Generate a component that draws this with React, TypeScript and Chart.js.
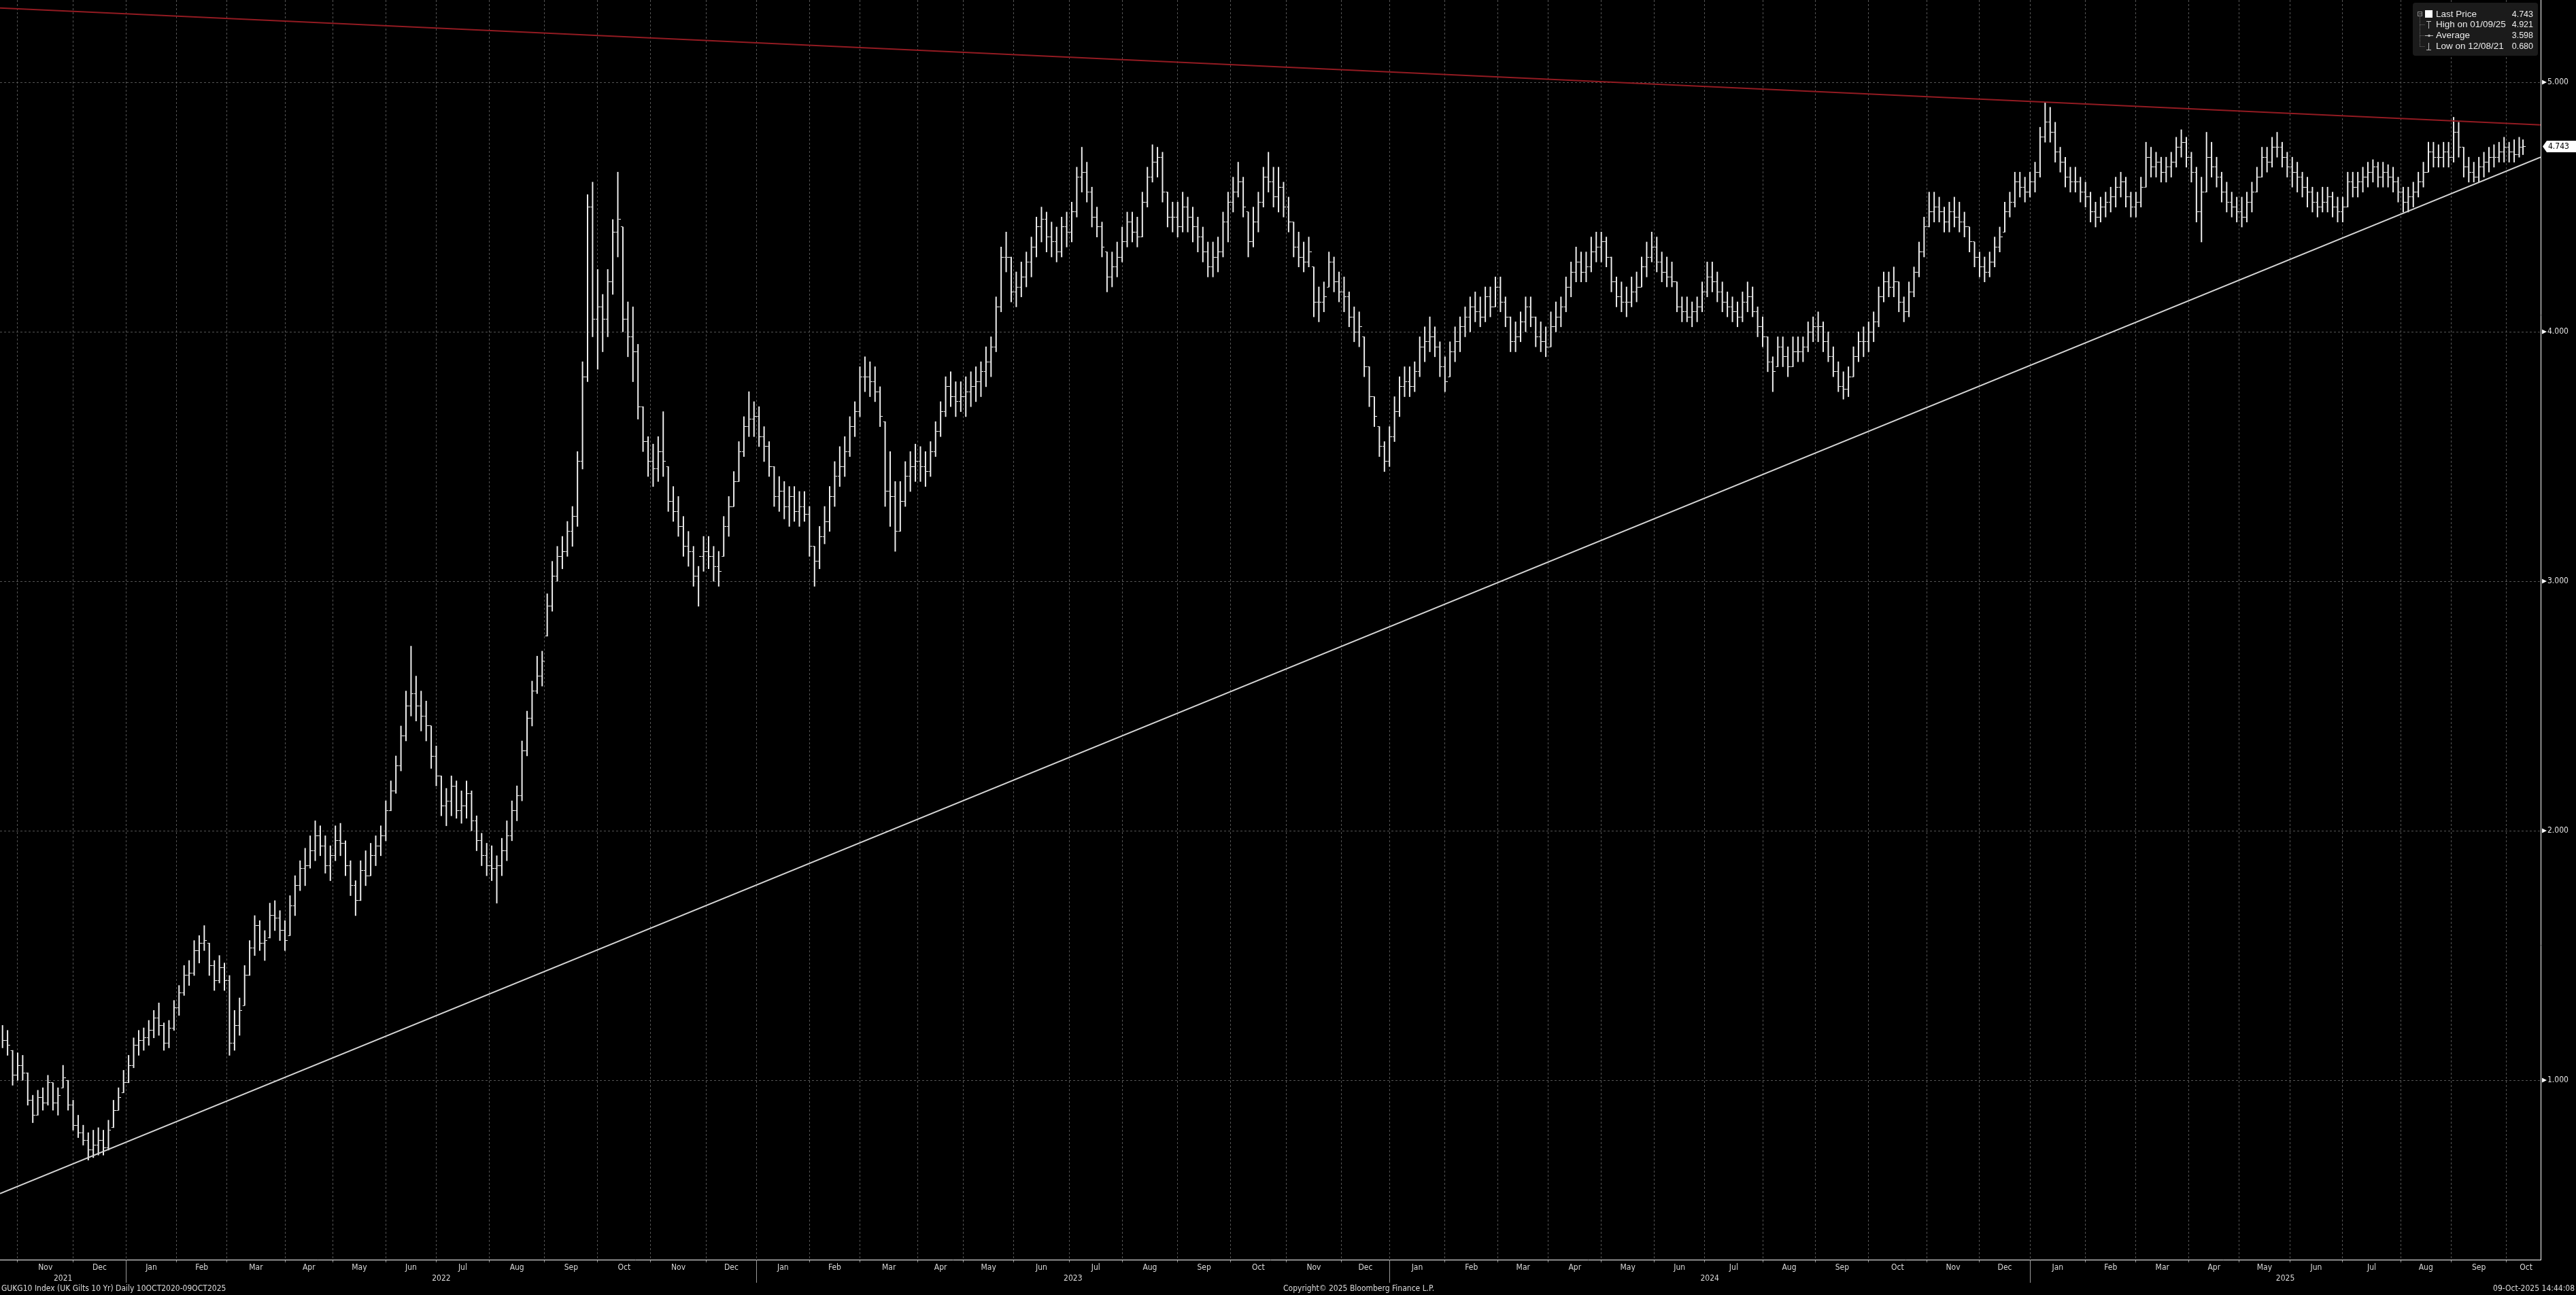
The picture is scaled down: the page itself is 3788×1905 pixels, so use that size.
import React, { useEffect, useRef } from 'react';
import { Chart, registerables } from 'chart.js';

Chart.register(...registerables);

// ---------- calendar ----------
const START_DATE = '2021-10-21';
const END_DATE = '2025-10-09';
const ukHolidays = [
  '2021-12-27', '2021-12-28',
  '2022-01-03', '2022-04-15', '2022-04-18', '2022-05-02', '2022-06-02', '2022-06-03', '2022-08-29', '2022-09-19', '2022-12-26', '2022-12-27',
  '2023-01-02', '2023-04-07', '2023-04-10', '2023-05-01', '2023-05-08', '2023-05-29', '2023-08-28', '2023-12-25', '2023-12-26',
  '2024-01-01', '2024-03-29', '2024-04-01', '2024-05-06', '2024-05-27', '2024-08-26', '2024-12-25', '2024-12-26',
  '2025-01-01', '2025-04-18', '2025-04-21', '2025-05-05', '2025-05-26', '2025-08-25',
];
const monthNames = ['Jan', 'Feb', 'Mar', 'Apr', 'May', 'Jun', 'Jul', 'Aug', 'Sep', 'Oct', 'Nov', 'Dec'];
const yTickValues = [1, 2, 3, 4, 5];

// ---------- data: two-trading-day bars [low, high, close] ----------
const bars2021: number[][] = [
  [1.13, 1.22, 1.16], [1.10, 1.20, 1.14], [0.98, 1.12, 1.02], [1.00, 1.11, 1.06], [1.00, 1.10, 1.03],
  [0.90, 1.03, 0.92], [0.83, 0.94, 0.86], [0.86, 0.96, 0.93], [0.88, 0.97, 0.91], [0.90, 1.02, 0.99],
  [0.88, 0.99, 0.91], [0.86, 0.97, 0.94], [0.97, 1.06, 1.01], [0.88, 1.00, 0.90], [0.80, 0.92, 0.82],
  [0.77, 0.86, 0.79], [0.74, 0.82, 0.76], [0.68, 0.79, 0.72], [0.69, 0.80, 0.74], [0.70, 0.81, 0.76],
  [0.70, 0.80, 0.73], [0.72, 0.84, 0.80], [0.81, 0.92, 0.88], [0.88, 0.97, 0.93], [0.95, 1.04, 0.99],
];
const bars2022: number[][] = [
  [0.99, 1.10, 1.06], [1.05, 1.17, 1.14], [1.10, 1.20, 1.16], [1.12, 1.21, 1.17], [1.14, 1.24, 1.20],
  [1.17, 1.28, 1.25], [1.18, 1.31, 1.22], [1.12, 1.23, 1.15], [1.13, 1.24, 1.21], [1.20, 1.32, 1.29],
  [1.26, 1.38, 1.35], [1.34, 1.46, 1.42], [1.38, 1.48, 1.43], [1.42, 1.56, 1.52], [1.47, 1.58, 1.55],
  [1.52, 1.62, 1.56], [1.42, 1.55, 1.46], [1.36, 1.48, 1.40], [1.39, 1.50, 1.45], [1.36, 1.47, 1.40],
  [1.10, 1.42, 1.15], [1.12, 1.28, 1.22], [1.18, 1.33, 1.28], [1.30, 1.46, 1.42], [1.42, 1.56, 1.53],
  [1.50, 1.66, 1.62], [1.52, 1.64, 1.55], [1.48, 1.60, 1.56], [1.57, 1.71, 1.66], [1.60, 1.72, 1.65],
  [1.56, 1.68, 1.60], [1.52, 1.64, 1.56], [1.58, 1.74, 1.70], [1.66, 1.82, 1.78], [1.76, 1.88, 1.85],
  [1.78, 1.93, 1.86], [1.85, 1.98, 1.92], [1.88, 2.04, 1.98], [1.90, 2.02, 1.94], [1.83, 1.98, 1.86],
  [1.80, 1.94, 1.90], [1.88, 2.02, 1.96], [1.90, 2.03, 1.95], [1.82, 1.96, 1.86], [1.74, 1.88, 1.78],
  [1.66, 1.80, 1.72], [1.72, 1.88, 1.84], [1.78, 1.92, 1.82], [1.82, 1.95, 1.90], [1.86, 1.98, 1.94],
  [1.90, 2.02, 1.98], [1.96, 2.12, 2.08], [2.08, 2.20, 2.16], [2.15, 2.30, 2.26], [2.24, 2.42, 2.38],
  [2.36, 2.56, 2.50], [2.46, 2.74, 2.55], [2.44, 2.62, 2.50], [2.40, 2.56, 2.46], [2.36, 2.52, 2.42],
  [2.25, 2.42, 2.30], [2.18, 2.34, 2.22], [2.06, 2.22, 2.10], [2.02, 2.17, 2.12], [2.06, 2.22, 2.18],
  [2.05, 2.20, 2.08], [2.03, 2.16, 2.10], [2.05, 2.20, 2.15], [2.00, 2.16, 2.04], [1.92, 2.06, 1.96],
  [1.86, 1.99, 1.90], [1.82, 1.95, 1.86], [1.80, 1.94, 1.85], [1.71, 1.90, 1.86], [1.82, 1.97, 1.92],
  [1.88, 2.04, 1.98], [1.96, 2.12, 2.08], [2.04, 2.18, 2.14], [2.12, 2.36, 2.32], [2.30, 2.48, 2.45],
  [2.42, 2.60, 2.56], [2.55, 2.70, 2.62], [2.58, 2.72, 2.68], [2.78, 2.95, 2.90], [2.88, 3.08, 3.02],
  [3.00, 3.14, 3.10], [3.05, 3.18, 3.12], [3.10, 3.24, 3.20], [3.14, 3.30, 3.26], [3.22, 3.52, 3.48],
  [3.45, 3.88, 3.82], [3.80, 4.55, 4.50], [3.98, 4.60, 4.05], [3.85, 4.25, 4.10], [3.92, 4.15, 4.05],
  [3.98, 4.25, 4.20], [4.15, 4.45, 4.40], [4.30, 4.64, 4.45], [4.00, 4.42, 4.05], [3.90, 4.12, 3.98],
  [3.80, 4.10, 3.92], [3.65, 3.95, 3.70], [3.52, 3.70, 3.56], [3.42, 3.58, 3.48], [3.38, 3.55, 3.45],
  [3.40, 3.58, 3.52], [3.42, 3.68, 3.48], [3.28, 3.46, 3.32], [3.24, 3.38, 3.28], [3.18, 3.34, 3.22],
  [3.10, 3.26, 3.14], [3.06, 3.20, 3.12], [2.98, 3.14, 3.02], [2.90, 3.06, 3.10], [3.04, 3.18, 3.12],
  [3.05, 3.18, 3.10], [3.00, 3.14, 3.06], [2.98, 3.12, 3.04], [3.10, 3.26, 3.22], [3.18, 3.34, 3.30],
  [3.30, 3.44, 3.40], [3.40, 3.56, 3.52], [3.50, 3.66, 3.62], [3.58, 3.76, 3.65], [3.58, 3.72, 3.66],
];
const bars2023: number[][] = [
  [3.54, 3.70, 3.58], [3.48, 3.62, 3.54], [3.42, 3.56, 3.46], [3.30, 3.46, 3.34], [3.28, 3.42, 3.36],
  [3.25, 3.40, 3.30], [3.22, 3.38, 3.34], [3.24, 3.38, 3.28], [3.22, 3.36, 3.30], [3.24, 3.36, 3.27],
  [3.10, 3.30, 3.14], [2.98, 3.14, 3.08], [3.05, 3.22, 3.18], [3.15, 3.30, 3.24], [3.20, 3.38, 3.34],
  [3.30, 3.48, 3.42], [3.38, 3.54, 3.46], [3.42, 3.58, 3.52], [3.50, 3.66, 3.62], [3.58, 3.72, 3.68],
  [3.66, 3.86, 3.82], [3.76, 3.90, 3.82], [3.74, 3.88, 3.80], [3.72, 3.86, 3.76], [3.62, 3.78, 3.66],
  [3.30, 3.64, 3.36], [3.22, 3.52, 3.34], [3.12, 3.40, 3.20], [3.20, 3.40, 3.32], [3.30, 3.48, 3.42],
  [3.36, 3.52, 3.46], [3.40, 3.55, 3.48], [3.40, 3.54, 3.46], [3.38, 3.52, 3.44], [3.42, 3.56, 3.52],
  [3.50, 3.64, 3.60], [3.58, 3.72, 3.68], [3.66, 3.82, 3.78], [3.70, 3.84, 3.74], [3.66, 3.80, 3.72],
  [3.68, 3.80, 3.74], [3.66, 3.82, 3.76], [3.70, 3.84, 3.78], [3.72, 3.86, 3.80], [3.74, 3.88, 3.84],
  [3.78, 3.94, 3.88], [3.82, 3.98, 3.94], [3.92, 4.14, 4.10], [4.08, 4.34, 4.30], [4.24, 4.40, 4.30],
  [4.12, 4.30, 4.16], [4.10, 4.24, 4.18], [4.14, 4.28, 4.22], [4.18, 4.32, 4.28], [4.22, 4.38, 4.34],
  [4.30, 4.46, 4.42], [4.36, 4.50, 4.45], [4.32, 4.48, 4.38], [4.30, 4.44, 4.36], [4.28, 4.42, 4.32],
  [4.30, 4.46, 4.42], [4.34, 4.48, 4.40], [4.36, 4.52, 4.48], [4.46, 4.66, 4.62], [4.56, 4.74, 4.64],
  [4.52, 4.68, 4.56], [4.42, 4.58, 4.46], [4.38, 4.50, 4.42], [4.30, 4.44, 4.34], [4.16, 4.32, 4.22],
  [4.18, 4.32, 4.26], [4.22, 4.36, 4.30], [4.28, 4.42, 4.36], [4.34, 4.48, 4.44], [4.36, 4.48, 4.40],
  [4.34, 4.46, 4.38], [4.38, 4.56, 4.52], [4.50, 4.66, 4.62], [4.60, 4.75, 4.68], [4.62, 4.74, 4.70],
  [4.52, 4.72, 4.56], [4.42, 4.56, 4.46], [4.40, 4.52, 4.46], [4.38, 4.52, 4.42], [4.40, 4.56, 4.50],
  [4.40, 4.54, 4.46], [4.36, 4.50, 4.42], [4.32, 4.46, 4.38], [4.28, 4.42, 4.32], [4.22, 4.36, 4.26],
  [4.22, 4.36, 4.30], [4.24, 4.38, 4.32], [4.30, 4.48, 4.44], [4.36, 4.56, 4.52], [4.48, 4.62, 4.56],
  [4.54, 4.68, 4.60], [4.46, 4.62, 4.50], [4.30, 4.48, 4.36], [4.34, 4.50, 4.44], [4.40, 4.56, 4.52],
  [4.50, 4.66, 4.62], [4.56, 4.72, 4.60], [4.50, 4.66, 4.54], [4.48, 4.66, 4.58], [4.46, 4.60, 4.50],
  [4.40, 4.54, 4.44], [4.30, 4.44, 4.34], [4.26, 4.40, 4.30], [4.24, 4.36, 4.28], [4.26, 4.38, 4.32],
  [4.06, 4.26, 4.12], [4.04, 4.18, 4.12], [4.08, 4.20, 4.14], [4.18, 4.32, 4.28], [4.16, 4.30, 4.20],
  [4.12, 4.24, 4.16], [4.08, 4.22, 4.14], [4.02, 4.16, 4.06], [3.96, 4.10, 4.00], [3.94, 4.08, 4.02],
  [3.82, 3.98, 3.86], [3.70, 3.86, 3.74], [3.62, 3.74, 3.66], [3.50, 3.62, 3.54], [3.44, 3.56, 3.48],
  [3.46, 3.62, 3.58],
];
const bars2024: number[][] = [
  [3.56, 3.74, 3.68], [3.66, 3.82, 3.78], [3.74, 3.86, 3.80], [3.74, 3.86, 3.78], [3.76, 3.88, 3.84],
  [3.82, 3.98, 3.94], [3.88, 4.02, 3.96], [3.92, 4.06, 3.98], [3.90, 4.02, 3.94], [3.82, 3.96, 3.86],
  [3.76, 3.90, 3.80], [3.82, 3.96, 3.92], [3.88, 4.02, 3.96], [3.92, 4.06, 4.02], [3.98, 4.10, 4.06],
  [4.00, 4.14, 4.10], [4.04, 4.16, 4.08], [4.02, 4.14, 4.06], [4.04, 4.18, 4.14], [4.06, 4.18, 4.10],
  [4.10, 4.22, 4.18], [4.08, 4.22, 4.12], [4.02, 4.14, 4.06], [3.92, 4.06, 3.96], [3.92, 4.04, 3.98],
  [3.96, 4.08, 4.04], [4.00, 4.14, 4.10], [4.02, 4.14, 4.06], [3.94, 4.06, 3.98], [3.92, 4.04, 3.96],
  [3.90, 4.02, 3.94], [3.94, 4.08, 4.02], [4.00, 4.12, 4.06], [4.02, 4.14, 4.10], [4.08, 4.22, 4.18],
  [4.14, 4.28, 4.24], [4.20, 4.34, 4.28], [4.20, 4.32, 4.24], [4.20, 4.32, 4.26], [4.24, 4.38, 4.32],
  [4.28, 4.40, 4.34], [4.28, 4.40, 4.36], [4.26, 4.38, 4.30], [4.16, 4.30, 4.20], [4.10, 4.22, 4.14],
  [4.08, 4.20, 4.12], [4.06, 4.18, 4.12], [4.10, 4.22, 4.16], [4.12, 4.24, 4.18], [4.18, 4.30, 4.26],
  [4.22, 4.36, 4.30], [4.28, 4.40, 4.34], [4.24, 4.38, 4.28], [4.20, 4.32, 4.24], [4.18, 4.30, 4.22],
  [4.18, 4.28, 4.20], [4.08, 4.20, 4.10], [4.04, 4.14, 4.08], [4.04, 4.14, 4.06], [4.02, 4.12, 4.08],
  [4.04, 4.14, 4.10], [4.08, 4.20, 4.16], [4.14, 4.28, 4.22], [4.16, 4.28, 4.20], [4.12, 4.24, 4.16],
  [4.08, 4.20, 4.12], [4.06, 4.16, 4.10], [4.04, 4.14, 4.08], [4.02, 4.12, 4.06], [4.04, 4.16, 4.12],
  [4.08, 4.20, 4.14], [4.06, 4.18, 4.08], [3.98, 4.10, 4.02], [3.94, 4.06, 3.98], [3.84, 3.98, 3.88],
  [3.76, 3.90, 3.84], [3.86, 3.98, 3.94], [3.86, 3.98, 3.90], [3.82, 3.94, 3.86], [3.86, 3.98, 3.92],
  [3.88, 3.98, 3.92], [3.88, 3.98, 3.94], [3.92, 4.04, 4.00], [3.96, 4.06, 4.02], [3.96, 4.08, 4.02],
  [3.92, 4.04, 3.96], [3.88, 4.00, 3.90], [3.82, 3.94, 3.84], [3.76, 3.88, 3.78], [3.73, 3.84, 3.77],
  [3.74, 3.86, 3.82], [3.82, 3.94, 3.90], [3.88, 4.00, 3.96], [3.90, 4.02, 3.96], [3.92, 4.04, 4.00],
  [3.96, 4.08, 4.04], [4.02, 4.18, 4.14], [4.12, 4.24, 4.20], [4.14, 4.24, 4.18], [4.14, 4.26, 4.20],
  [4.08, 4.20, 4.12], [4.04, 4.14, 4.08], [4.06, 4.20, 4.16], [4.14, 4.26, 4.24], [4.22, 4.36, 4.32],
  [4.30, 4.46, 4.42], [4.42, 4.56, 4.48], [4.44, 4.56, 4.50], [4.44, 4.54, 4.48], [4.40, 4.50, 4.44],
  [4.40, 4.52, 4.48], [4.42, 4.54, 4.46], [4.40, 4.52, 4.44], [4.38, 4.48, 4.42], [4.32, 4.42, 4.36],
  [4.26, 4.36, 4.30], [4.22, 4.32, 4.26], [4.20, 4.30, 4.24], [4.22, 4.32, 4.28], [4.26, 4.38, 4.34],
  [4.32, 4.42, 4.38], [4.40, 4.52, 4.48], [4.46, 4.56, 4.52], [4.50, 4.64, 4.60], [4.54, 4.64, 4.58],
  [4.52, 4.62, 4.56], [4.54, 4.64, 4.60],
];
const bars2025: number[][] = [
  [4.56, 4.68, 4.64], [4.62, 4.82, 4.78], [4.76, 4.92, 4.84], [4.76, 4.90, 4.80], [4.68, 4.84, 4.72],
  [4.64, 4.74, 4.68], [4.58, 4.70, 4.62], [4.56, 4.66, 4.60], [4.56, 4.66, 4.60], [4.52, 4.62, 4.56],
  [4.50, 4.60, 4.54], [4.44, 4.56, 4.48], [4.42, 4.52, 4.46], [4.44, 4.54, 4.50], [4.46, 4.56, 4.52],
  [4.48, 4.58, 4.54], [4.50, 4.62, 4.58], [4.54, 4.64, 4.60], [4.50, 4.62, 4.54], [4.46, 4.56, 4.50],
  [4.46, 4.56, 4.52], [4.50, 4.62, 4.58], [4.58, 4.76, 4.70], [4.62, 4.74, 4.66], [4.62, 4.72, 4.68],
  [4.60, 4.70, 4.64], [4.60, 4.70, 4.66], [4.62, 4.72, 4.68], [4.66, 4.78, 4.74], [4.70, 4.81, 4.76],
  [4.66, 4.78, 4.70], [4.60, 4.72, 4.64], [4.44, 4.66, 4.48], [4.36, 4.62, 4.56], [4.56, 4.80, 4.70],
  [4.62, 4.76, 4.66], [4.58, 4.70, 4.62], [4.52, 4.64, 4.56], [4.48, 4.60, 4.52], [4.46, 4.56, 4.50],
  [4.44, 4.54, 4.48], [4.42, 4.54, 4.46], [4.44, 4.56, 4.52], [4.48, 4.60, 4.56], [4.56, 4.66, 4.62],
  [4.62, 4.74, 4.70], [4.64, 4.74, 4.68], [4.66, 4.78, 4.74], [4.70, 4.80, 4.74], [4.66, 4.76, 4.70],
  [4.62, 4.72, 4.66], [4.58, 4.70, 4.64], [4.56, 4.68, 4.62], [4.54, 4.64, 4.58], [4.50, 4.62, 4.56],
  [4.48, 4.58, 4.52], [4.46, 4.56, 4.50], [4.48, 4.58, 4.52], [4.48, 4.58, 4.54], [4.46, 4.56, 4.50],
  [4.44, 4.54, 4.48], [4.44, 4.54, 4.50], [4.50, 4.64, 4.60], [4.54, 4.64, 4.58], [4.54, 4.64, 4.60],
  [4.56, 4.66, 4.62], [4.58, 4.68, 4.64], [4.60, 4.69, 4.66], [4.58, 4.68, 4.62], [4.58, 4.68, 4.64],
  [4.58, 4.67, 4.62], [4.56, 4.66, 4.60], [4.52, 4.62, 4.56], [4.48, 4.58, 4.52], [4.48, 4.58, 4.54],
  [4.50, 4.60, 4.56], [4.54, 4.64, 4.60], [4.58, 4.68, 4.64], [4.64, 4.76, 4.72], [4.66, 4.76, 4.70],
  [4.66, 4.75, 4.70], [4.66, 4.76, 4.72], [4.66, 4.76, 4.70], [4.68, 4.86, 4.80], [4.70, 4.84, 4.74],
  [4.62, 4.74, 4.66], [4.60, 4.70, 4.64], [4.60, 4.68, 4.62], [4.60, 4.70, 4.66], [4.62, 4.72, 4.68],
  [4.64, 4.74, 4.70], [4.66, 4.75, 4.70], [4.68, 4.76, 4.72], [4.68, 4.78, 4.74], [4.68, 4.76, 4.72],
  [4.68, 4.77, 4.71], [4.70, 4.78, 4.74], [4.71, 4.77, 4.743],
];

// trend lines: value at left edge, value at right edge
const resistanceLine = [5.298, 4.829];
const supportLine = [0.546, 4.70];

// legend
const legendLabels = ['Last Price', 'High on 01/09/25', 'Average', 'Low on 12/08/21'];
const legendValues = ['4.743', '4.921', '3.598', '0.680'];
const lastPrice = 4.743;

const footerLeft = 'GUKG10 Index (UK Gilts 10 Yr) Daily 10OCT2020-09OCT2025';
const footerMid = 'Copyright\u00A9 2025 Bloomberg Finance L.P.';
const footerRight = '09-Oct-2025 14:44:08';

const AXIS_FONT = '"DejaVu Sans Condensed", "Liberation Sans Narrow", "DejaVu Sans", sans-serif';
const LEGEND_FONT = '"Liberation Sans", Arial, sans-serif';

function buildTradingDays(): string[] {
  const out: string[] = [];
  const hol = new Set(ukHolidays);
  const d = new Date(START_DATE + 'T00:00:00Z');
  const end = new Date(END_DATE + 'T00:00:00Z');
  while (d.getTime() <= end.getTime()) {
    const wd = d.getUTCDay();
    const iso = d.toISOString().slice(0, 10);
    if (wd !== 0 && wd !== 6 && !hol.has(iso)) out.push(iso);
    d.setUTCDate(d.getUTCDate() + 1);
  }
  return out;
}

const zeroPad = (s: any) => {
  s.paddingLeft = 0;
  s.paddingRight = 0;
  s.paddingTop = 0;
  s.paddingBottom = 0;
};

export default function App() {
  const ref = useRef<HTMLCanvasElement>(null);

  useEffect(() => {
    document.body.style.margin = '0';
    document.body.style.background = '#000';
    const canvas = ref.current;
    if (!canvas) return;

    const days = buildTradingDays();
    const N = days.length;
    const X_MIN = -0.5;
    const X_MAX = N + 6;

    // month spans
    const months: { key: string; start: number; end: number }[] = [];
    days.forEach((iso, i) => {
      const key = iso.slice(0, 7);
      if (!months.length || months[months.length - 1].key !== key) {
        if (months.length) months[months.length - 1].end = i;
        months.push({ key, start: i, end: N });
      }
    });
    const monthBoundaries = months.filter((m) => m.start > 0).map((m) => m.start - 0.5);
    const labelledMonths = months.filter((m, i) => !(i === 0 && m.end - m.start < 10));
    const monthLabelPos = labelledMonths.map((m, i) => {
      const last = i === labelledMonths.length - 1;
      const a = m.start - 0.5;
      const b = last ? X_MAX + 2 : m.end - 0.5;
      return (a + b) / 2;
    });
    const monthLabelText = labelledMonths.map((m) => monthNames[parseInt(m.key.slice(5, 7), 10) - 1]);

    // year spans
    const years: { y: string; start: number; end: number }[] = [];
    days.forEach((iso, i) => {
      const y = iso.slice(0, 4);
      if (!years.length || years[years.length - 1].y !== y) {
        if (years.length) years[years.length - 1].end = i;
        years.push({ y, start: i, end: N });
      }
    });
    const yearLabelPos = years.map((yr, i) => {
      const a = Math.max(yr.start - 0.5, X_MIN);
      const b = i === years.length - 1 ? X_MAX : yr.end - 0.5;
      return (a + b) / 2;
    });
    const yearLabelText = years.map((yr) => yr.y);
    const yearBoundaries = years.filter((yr) => yr.start > 0).map((yr) => yr.start - 0.5);

    const allBars = [...bars2021, ...bars2022, ...bars2023, ...bars2024, ...bars2025];
    const xOf = (k: number) => Math.min(2 * k + 0.5, N - 1);
    const rangeData = allBars.map((b, k) => ({ x: xOf(k), y: [b[0], b[1]] }));
    const closeData = allBars.map((b, k) => ({ x: xOf(k), y: b[2] }));
    // open tick: the bar opens where the previous bar closed (kept within its range)
    const openData = allBars.slice(1).map((b, j) => ({
      x: xOf(j + 1),
      y: Math.min(b[1], Math.max(b[0], allBars[j][2])),
    }));

    const closeImg = document.createElement('canvas');
    closeImg.width = 8;
    closeImg.height = 1;
    const cctx = closeImg.getContext('2d')!;
    cctx.fillStyle = '#f2f2f2';
    cctx.fillRect(5, 0, 3, 1);

    const openImg = document.createElement('canvas');
    openImg.width = 8;
    openImg.height = 1;
    const octx = openImg.getContext('2d')!;
    octx.fillStyle = '#d8d8d8';
    octx.fillRect(1, 0, 3, 1);

    const decor = {
      id: 'bbgDecor',
      beforeDraw(chart: any) {
        const c = chart.ctx;
        c.save();
        c.fillStyle = '#000';
        c.fillRect(0, 0, chart.width, chart.height);
        c.restore();
      },
      afterDraw(chart: any) {
        const c = chart.ctx as CanvasRenderingContext2D;
        const xs = chart.scales.x;
        const ys = chart.scales.y;
        const area = chart.chartArea;
        c.save();

        // year separators below the axis
        c.strokeStyle = '#9a9a9a';
        c.lineWidth = 1;
        yearBoundaries.forEach((v) => {
          const px = Math.round(xs.getPixelForValue(v)) + 0.5;
          c.beginPath();
          c.moveTo(px, area.bottom);
          c.lineTo(px, area.bottom + 34);
          c.stroke();
        });

        // y tick arrow markers
        c.fillStyle = '#ffffff';
        yTickValues.forEach((v) => {
          const py = ys.getPixelForValue(v);
          c.beginPath();
          c.moveTo(area.right + 2, py - 3.5);
          c.lineTo(area.right + 9, py);
          c.lineTo(area.right + 2, py + 3.5);
          c.closePath();
          c.fill();
        });

        // last price tag
        const lp = ys.getPixelForValue(lastPrice);
        c.fillStyle = '#ffffff';
        c.beginPath();
        c.moveTo(area.right + 3, lp);
        c.lineTo(area.right + 9, lp - 8.5);
        c.lineTo(chart.width, lp - 8.5);
        c.lineTo(chart.width, lp + 8.5);
        c.lineTo(area.right + 9, lp + 8.5);
        c.closePath();
        c.fill();
        c.fillStyle = '#000';
        c.font = '12px ' + AXIS_FONT;
        c.textBaseline = 'middle';
        c.textAlign = 'left';
        c.fillText(lastPrice.toFixed(3), area.right + 11, lp + 0.5);

        // legend box
        const bx = 3548, by = 4, bw = 184, bh = 78;
        c.fillStyle = '#1b1b1b';
        c.beginPath();
        (c as any).roundRect(bx, by, bw, bh, 4);
        c.fill();
        const rowsY = [21, 36, 52, 68];
        // tree lines
        c.strokeStyle = '#6e6e6e';
        c.lineWidth = 1;
        c.setLineDash([1, 1]);
        c.beginPath();
        c.moveTo(3558.5, 25);
        c.lineTo(3558.5, rowsY[3] + 0.5);
        for (let r = 1; r < 4; r++) {
          c.moveTo(3558.5, rowsY[r] + 0.5);
          c.lineTo(3566, rowsY[r] + 0.5);
        }
        c.stroke();
        c.setLineDash([]);
        // collapse box
        c.strokeStyle = '#8a8a8a';
        c.strokeRect(3555.5, 17.5, 6, 6);
        c.beginPath();
        c.moveTo(3557, 20.5);
        c.lineTo(3561, 20.5);
        c.stroke();
        // icons
        c.fillStyle = '#ffffff';
        c.fillRect(3566, 15, 11, 11);
        c.strokeStyle = '#bdbdbd';
        c.beginPath();
        c.moveTo(3568, 31.5); c.lineTo(3575, 31.5);
        c.moveTo(3571.5, 31); c.lineTo(3571.5, 42);
        c.moveTo(3566, 52.5); c.lineTo(3578, 52.5);
        c.moveTo(3571.5, 63); c.lineTo(3571.5, 73);
        c.moveTo(3568, 73.5); c.lineTo(3575, 73.5);
        c.stroke();
        c.fillStyle = '#bdbdbd';
        c.beginPath();
        c.arc(3572, 52.5, 1.8, 0, Math.PI * 2);
        c.fill();
        // legend texts
        c.fillStyle = '#ececec';
        c.textBaseline = 'middle';
        legendLabels.forEach((t, i) => {
          c.font = '13.5px ' + LEGEND_FONT;
          c.textAlign = 'left';
          c.fillText(t, 3582, rowsY[i] + 0.5);
          c.font = '12.5px ' + LEGEND_FONT;
          c.textAlign = 'right';
          c.fillText(legendValues[i], 3725, rowsY[i] + 0.5);
        });

        // footer
        c.fillStyle = '#dcdcdc';
        c.font = '12px ' + AXIS_FONT;
        c.textBaseline = 'middle';
        c.textAlign = 'left';
        c.fillText(footerLeft, 2, 1896);
        c.fillText(footerMid, 1887, 1896);
        c.textAlign = 'right';
        c.fillText(footerRight, 3786, 1896);
        c.restore();
      },
    };

    const gridColor = '#555555';
    const chart = new Chart(canvas, {
      type: 'bar',
      data: {
        datasets: [
          {
            type: 'line',
            label: 'resistance',
            data: [{ x: X_MIN, y: resistanceLine[0] }, { x: X_MAX, y: resistanceLine[1] }],
            borderColor: '#931b22',
            borderWidth: 2,
            pointRadius: 0,
            order: 0,
          } as any,
          {
            type: 'line',
            label: 'support',
            data: [{ x: X_MIN, y: supportLine[0] }, { x: X_MAX, y: supportLine[1] }],
            borderColor: '#d4d4d4',
            borderWidth: 2,
            pointRadius: 0,
            order: 0,
          } as any,
          {
            type: 'bar',
            label: 'range',
            data: rangeData as any,
            backgroundColor: '#f2f2f2',
            borderWidth: 0,
            barThickness: 1.3,
            grouped: false,
            order: 3,
          } as any,
          {
            type: 'line',
            label: 'close',
            data: closeData as any,
            showLine: false,
            pointStyle: closeImg,
            pointRadius: 3,
            order: 1,
          } as any,
          {
            type: 'line',
            label: 'open',
            data: openData as any,
            showLine: false,
            pointStyle: openImg,
            pointRadius: 3,
            order: 2,
          } as any,
        ],
      },
      options: {
        responsive: false,
        devicePixelRatio: 1,
        animation: false,
        events: [],
        layout: { autoPadding: false, padding: { left: 0, right: 0, top: 0, bottom: 17 } },
        plugins: { legend: { display: false }, tooltip: { enabled: false } },
        scales: {
          x: {
            type: 'linear',
            position: 'bottom',
            offset: false,
            min: X_MIN,
            max: X_MAX,
            weight: 0,
            afterBuildTicks: (s: any) => { s.ticks = monthBoundaries.map((v) => ({ value: v })); },
            afterFit: (s: any) => { s.height = 4; zeroPad(s); },
            ticks: { display: false, autoSkip: false },
            grid: { offset: false, color: gridColor, lineWidth: 1, drawTicks: true, tickLength: 4, tickColor: '#8a8a8a', tickBorderDash: [] },
            border: { display: true, color: '#ffffff', width: 1, dash: [3, 3] },
          },
          xm: {
            type: 'linear',
            position: 'bottom',
            offset: false,
            min: X_MIN,
            max: X_MAX,
            weight: 1,
            afterBuildTicks: (s: any) => { s.ticks = monthLabelPos.map((v) => ({ value: v })); },
            afterFit: (s: any) => { s.height = 16; zeroPad(s); },
            ticks: {
              autoSkip: false, maxRotation: 0, minRotation: 0, padding: 1,
              color: '#d8d8d8', font: { family: AXIS_FONT, size: 12 },
              callback: (_v: any, i: number) => monthLabelText[i],
            },
            grid: { display: false, drawTicks: false, offset: false },
            border: { display: false },
          },
          xy: {
            type: 'linear',
            position: 'bottom',
            offset: false,
            min: X_MIN,
            max: X_MAX,
            weight: 2,
            afterBuildTicks: (s: any) => { s.ticks = yearLabelPos.map((v) => ({ value: v })); },
            afterFit: (s: any) => { s.height = 15; zeroPad(s); },
            ticks: {
              autoSkip: false, maxRotation: 0, minRotation: 0, padding: 1,
              color: '#d8d8d8', font: { family: AXIS_FONT, size: 12 },
              callback: (_v: any, i: number) => yearLabelText[i],
            },
            grid: { display: false, drawTicks: false, offset: false },
            border: { display: false },
          },
          y: {
            type: 'linear',
            position: 'right',
            min: 0.281,
            max: 5.33,
            beginAtZero: false,
            afterBuildTicks: (s: any) => { s.ticks = yTickValues.map((v) => ({ value: v })); },
            afterFit: (s: any) => { s.width = 52; zeroPad(s); },
            ticks: {
              padding: 10, color: '#e4e4e4', font: { family: AXIS_FONT, size: 12 },
              callback: (v: any) => Number(v).toFixed(3),
            },
            grid: { color: gridColor, lineWidth: 1, drawTicks: false },
            border: { display: true, color: '#ffffff', width: 1, dash: [3, 3] },
          },
        },
      } as any,
      plugins: [decor],
    } as any);

    return () => chart.destroy();
  }, []);

  return (
    <canvas
      ref={ref}
      width={3788}
      height={1905}
      style={{ display: 'block', width: '3788px', height: '1905px' }}
    />
  );
}
